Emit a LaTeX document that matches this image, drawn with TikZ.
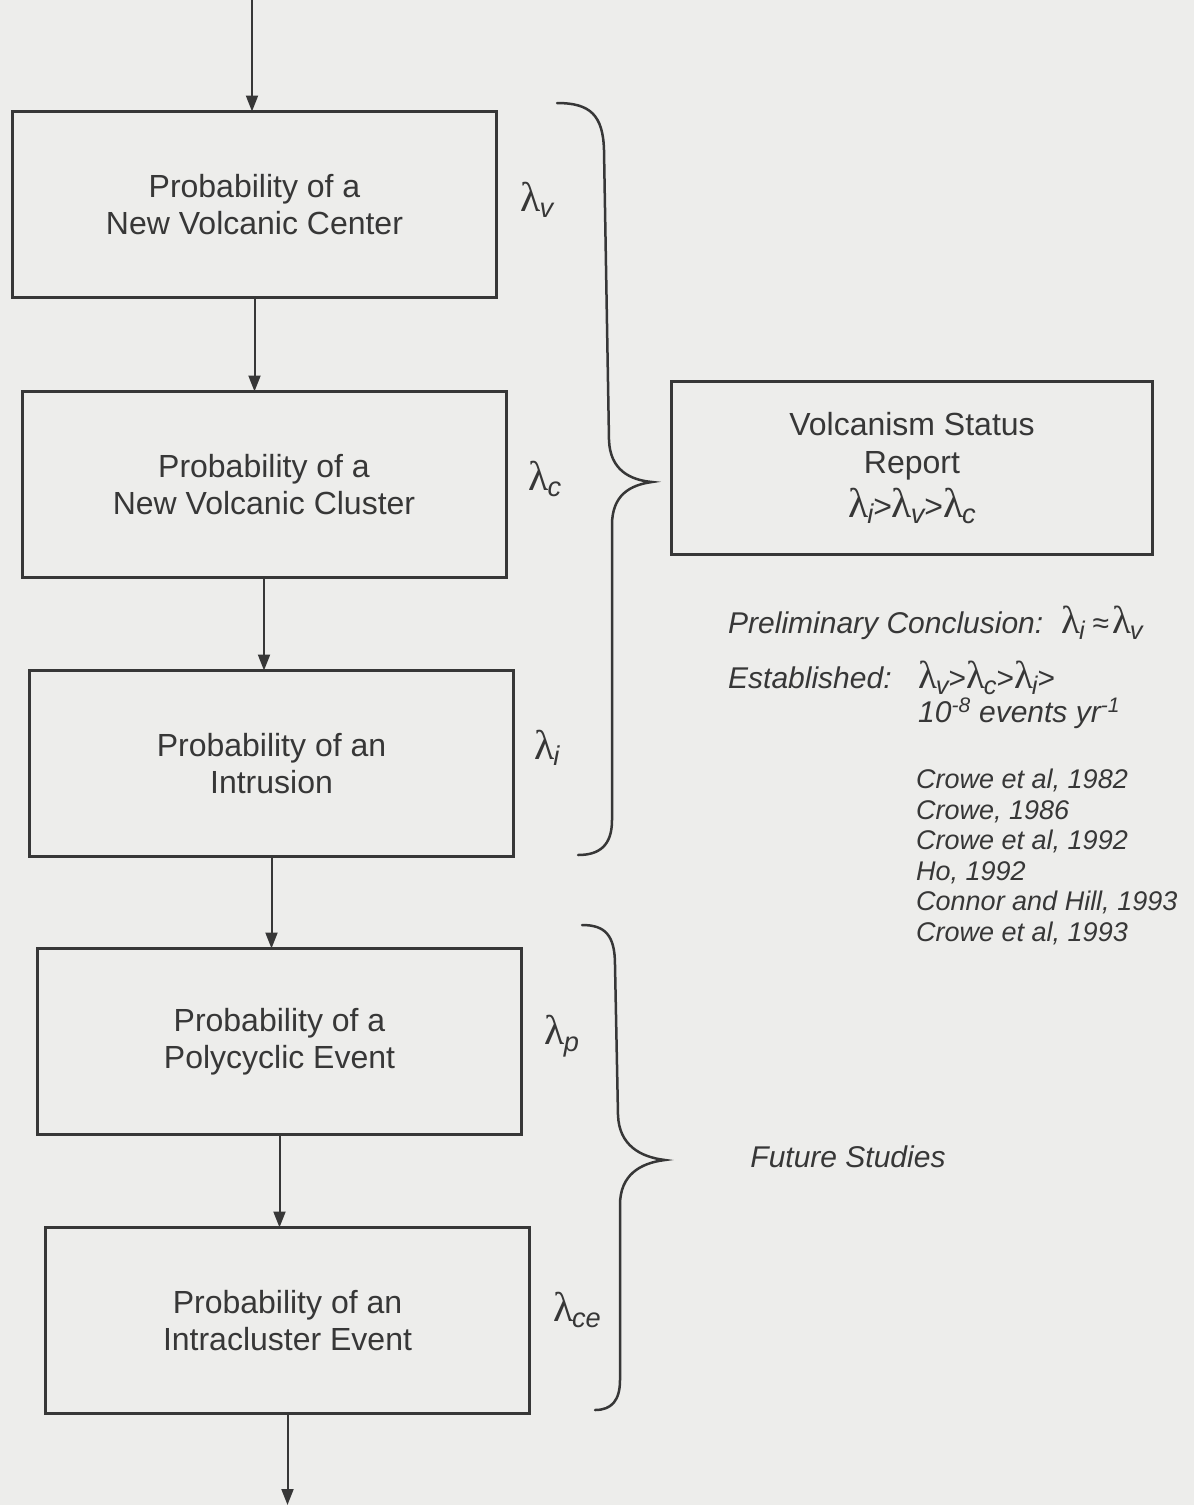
\documentclass[tikz,border=0pt]{standalone}
\usepackage{fontspec}
\setmainfont{Liberation Sans}
\newfontfamily\lamfont{Liberation Serif}
\usetikzlibrary{arrows.meta}
\definecolor{ink}{RGB}{55,55,55}
\definecolor{paper}{RGB}{237,237,235}
% lambda with an italic subscript
\newcommand\lam[1]{\scalebox{1.3}{\lamfont λ}\kern-0.04em\raisebox{-0.38ex}{\scalebox{0.85}{\itshape #1}}}
\begin{document}
\begin{tikzpicture}[x=1pt,y=-1pt,
  every node/.style={text=ink},
  probbox/.style={draw=ink,line width=3pt,minimum width=484pt,minimum height=186pt,
    align=center,font=\fontsize{32}{37}\selectfont,outer sep=0pt},
  lamlabel/.style={font=\fontsize{32}{37}\selectfont,inner sep=0pt},
  flow/.style={draw=ink,line width=2pt,-{Triangle[length=16pt,width=12pt]}},
  bracepath/.style={draw=ink,line width=2.5pt,line cap=round},
  note/.style={font=\fontsize{30}{34}\selectfont\itshape,inner sep=0pt}]
\fill[paper] (0,0) rectangle (1194,1505);
\useasboundingbox (0,0) rectangle (1194,1505);

% probability chain
\node[probbox] (center)  at (254.5,204.5)  {Probability of a\\New Volcanic Center};
\node[probbox] (cluster) at (264,484.5)    {Probability of a\\New Volcanic Cluster};
\node[probbox] (intr)    at (271.5,763.5)  {Probability of an\\Intrusion};
\node[probbox] (poly)    at (279.5,1041.5) {Probability of a\\Polycyclic Event};
\node[probbox] (intra)   at (287.5,1320.5) {Probability of an\\Intracluster Event};

\coordinate (in)  at (252,0);
\coordinate (out) at (293,1505);

\draw[flow] (in) -- (in |- center.north);
\draw[flow] (center.south) -- (center.south |- cluster.north);
\draw[flow] (cluster.south) -- (cluster.south |- intr.north);
\draw[flow] (intr.south) -- (intr.south |- poly.north);
\draw[flow] (poly.south) -- (poly.south |- intra.north);
\draw[flow] (intra.south) -- (intra.south |- out);

% rate symbols
\node[lamlabel] (lv)  at (537,200)  {\lam{v}};
\node[lamlabel] (lc)  at (545,479)  {\lam{c}};
\node[lamlabel] (li)  at (547,748)  {\lam{i}};
\node[lamlabel] (lp)  at (562,1036) {\lam{p}};
\node[lamlabel] (lce) at (577,1310) {\lam{ce}};

% braces
\draw[bracepath] (557,103) .. controls (590,103) and (603,115) .. (604,150)
  -- (609,440) .. controls (610,470) and (630,480) .. (652,482)
  .. controls (630,485) and (612,495) .. (612,525)
  -- (612,820) .. controls (612,845) and (600,855) .. (578,855);
\draw[bracepath] (582,925) .. controls (605,925) and (615,935) .. (615,965)
  -- (618,1115) .. controls (619,1145) and (640,1157) .. (665,1160)
  .. controls (640,1163) and (620,1175) .. (620,1205)
  -- (620,1380) .. controls (620,1400) and (612,1410) .. (595,1410);

% status report
\node[draw=ink,line width=3pt,minimum width=481pt,minimum height=173pt,
  align=center,font=\fontsize{32}{38}\selectfont] (report) at (912,468)
  {Volcanism Status\\Report\\[6pt]\lam{i}>\lam{v}>\lam{c}};

\node[note,anchor=base west] (prelim) at (728,633)
  {Preliminary Conclusion:\hspace{18pt}\upshape\lam{i}\hspace{8pt}≈\hspace{3pt}\lam{v}};
\node[note,anchor=base west] (estab) at (728,688) {Established:};
\node[note,anchor=base west] (order) at (918,688) {\upshape\lam{v}>\lam{c}>\lam{i}>};
\node[note,anchor=base west] (rate) at (918,722)
  {10\textsuperscript{-8} events yr\textsuperscript{-1}};

\node[anchor=north west,inner sep=0pt,align=left,
  font=\fontsize{27}{30.5}\selectfont\itshape] (refs) at (916,769)
  {Crowe et al, 1982\\Crowe, 1986\\Crowe et al, 1992\\Ho, 1992\\Connor and Hill, 1993\\Crowe et al, 1993};

\node[note] (future) at (848,1157) {Future Studies};
\end{tikzpicture}
\end{document}
